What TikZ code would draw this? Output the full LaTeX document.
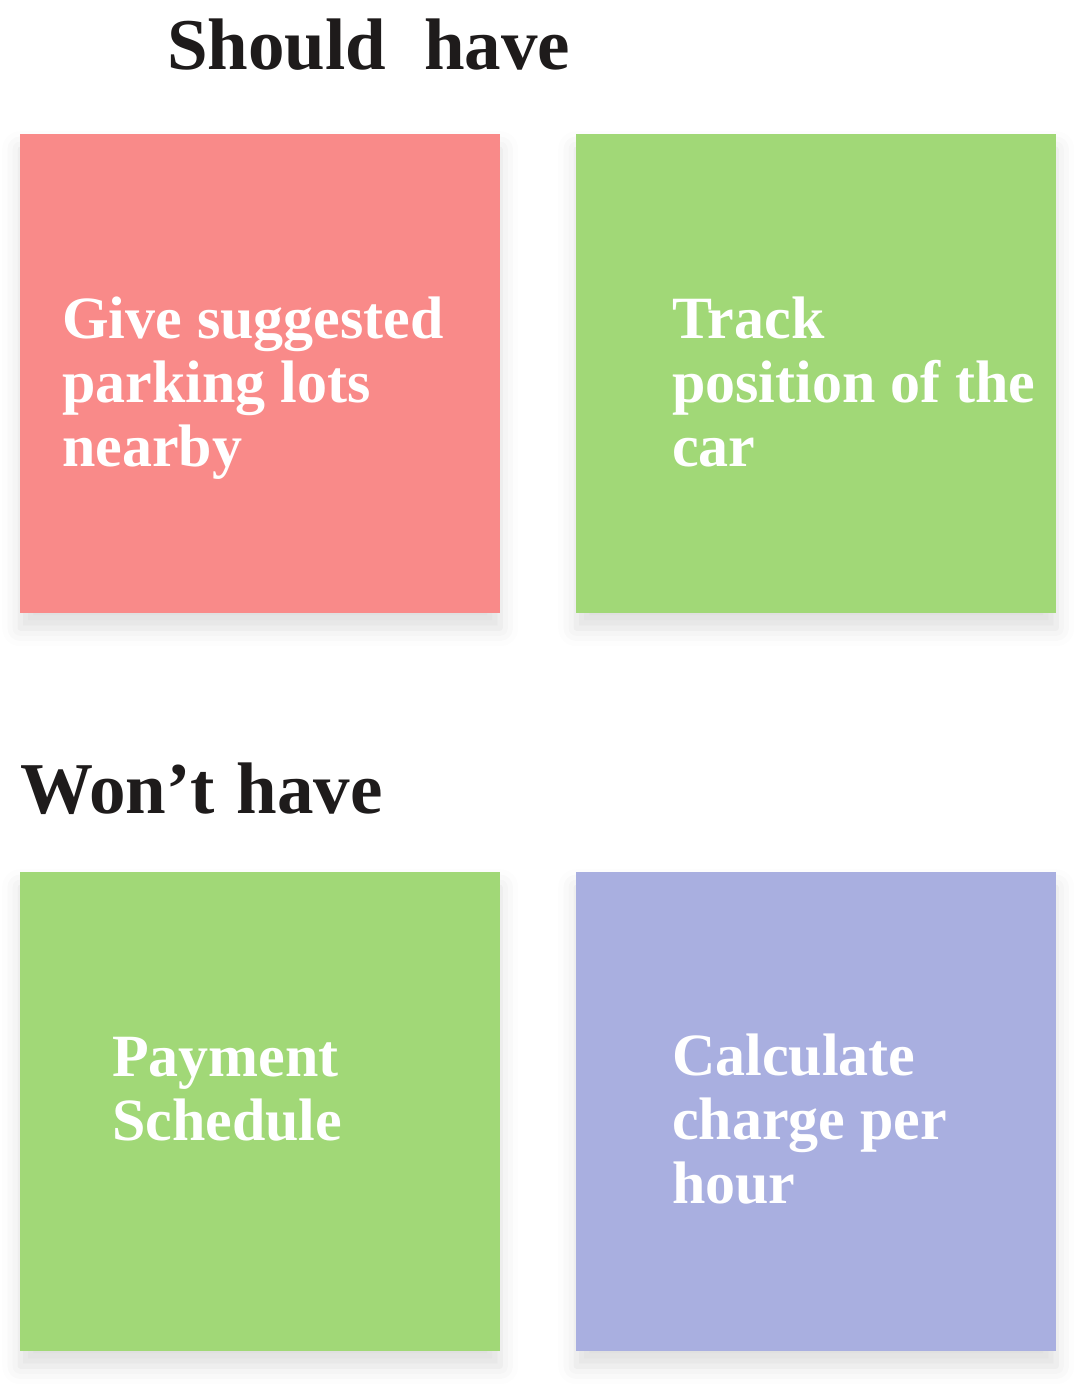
\documentclass[tikz,border=0pt]{standalone}
\usepackage{fontspec}
\setmainfont{Liberation Serif}
\usetikzlibrary{shadows.blur}
\definecolor{pinkc}{HTML}{F98A89}
\definecolor{greenc}{HTML}{A1D877}
\definecolor{purplec}{HTML}{A9AFE0}
\definecolor{titlec}{HTML}{1E1B1B}
\tikzset{
  card/.style={draw=none, minimum width=480pt, minimum height=479pt, inner sep=0pt, anchor=north west,
    blur shadow={shadow xshift=0pt, shadow yshift=-15pt, shadow blur radius=18pt, shadow opacity=13}},
  cardtext/.style={text=white, font=\fontsize{60}{64}\selectfont\bfseries, align=left, inner sep=0pt, anchor=base west},
  heading/.style={text=titlec, font=\fontsize{73}{80}\selectfont\bfseries, inner sep=0pt, anchor=base west}
}
\begin{document}
\begin{tikzpicture}[x=1pt,y=-1pt]
\useasboundingbox (0,0) rectangle (1076,1388);
\node[heading] (t1) at (167,70) {Should\hspace{38pt}have};
\node[heading] (t2) at (20,813) {Won’t\hspace{22pt}have};
\node[card, fill=pinkc] (c1) at (20,134) {};
\node[card, fill=greenc] (c2) at (576,134) {};
\node[card, fill=greenc] (c3) at (20,872) {};
\node[card, fill=purplec] (c4) at (576,872) {};
\node[cardtext] (x1) at (62,466) {Give suggested\\parking lots\\nearby};
\node[cardtext] (x2) at (672,466) {Track\\position of the\\car};
\node[cardtext] (x3) at (112,1140) {Payment\\Schedule};
\node[cardtext] (x4) at (672,1203) {Calculate\\charge per\\hour};
\end{tikzpicture}
\end{document}
